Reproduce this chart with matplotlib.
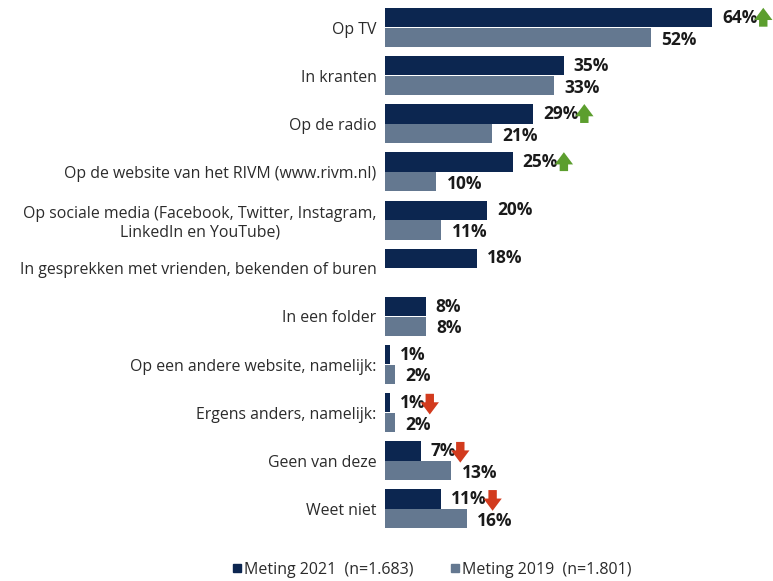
import numpy as np
import matplotlib.pyplot as plt
from matplotlib.lines import Line2D

plt.rcParams['font.family'] = ['Open Sans', 'DejaVu Sans']

# data
categories = [
    "Op TV",
    "In kranten",
    "Op de radio",
    "Op de website van het RIVM (www.rivm.nl)",
    "Op sociale media (Facebook, Twitter, Instagram,\nLinkedIn en YouTube)",
    "In gesprekken met vrienden, bekenden of buren",
    "In een folder",
    "Op een andere website, namelijk:",
    "Ergens anders, namelijk:",
    "Geen van deze",
    "Weet niet",
]
meting_2021 = [64, 35, 29, 25, 20, 18, 8, 1, 1, 7, 11]
meting_2019 = [52, 33, 21, 10, 11, None, 8, 2, 2, 13, 16]
# significant change vs 2019: +1 up, -1 down, 0 none
trend = [1, 0, 1, 1, 0, 0, 0, 0, -1, -1, -1]

c21 = '#0c2650'
c19 = '#647890'
green = '#5c9e2e'
red = '#d23b1e'

fig = plt.figure(figsize=(7.73, 5.81), dpi=100)
ax = fig.add_axes([0.498, 0.0826, 0.502, 0.9114])

y = np.arange(len(categories))
h = 0.40
ax.barh(y - 0.205, meting_2021, height=h, color=c21)
vals19 = [v if v is not None else 0 for v in meting_2019]
ax.barh(y + 0.205, vals19, height=h, color=c19)

for i in range(len(categories)):
    t = ax.annotate(f"{meting_2021[i]}%", xy=(meting_2021[i], y[i] - 0.205),
                    xytext=(7, 0), textcoords='offset points',
                    va='center', ha='left', fontsize=12.5, fontweight='bold',
                    color='#1a1a1a')
    if meting_2019[i] is not None:
        ax.annotate(f"{meting_2019[i]}%", xy=(meting_2019[i], y[i] + 0.205),
                    xytext=(7.5, -1.5), textcoords='offset points',
                    va='center', ha='left', fontsize=12.5, fontweight='bold',
                    color='#1a1a1a')
    if trend[i] != 0:
        col = green if trend[i] > 0 else red
        if trend[i] > 0:
            start, end = (1.17, 0.0), (1.17, 1.05)
        else:
            start, end = (1.17, 1.0), (1.17, -0.15)
        ax.annotate('', xy=end, xycoords=t, xytext=start, textcoords=t,
                    arrowprops=dict(arrowstyle='simple,head_width=1.2,head_length=0.8,tail_width=0.55',
                                    color=col, lw=0, mutation_scale=11,
                                    shrinkA=0, shrinkB=0))

ax.set_yticks(y)
ax.set_yticklabels(categories, fontsize=11.4, color='#2b2b2b', ha='right',
                   multialignment='center')
ax.tick_params(axis='y', length=0, pad=6)
ax.set_ylim(len(categories) - 0.5, -0.5)
ax.set_xlim(0, 75.9)
ax.set_xticks([])
for s in ax.spines.values():
    s.set_visible(False)

handles = [Line2D([], [], marker='s', linestyle='', color=c21, markersize=5.5),
           Line2D([], [], marker='s', linestyle='', color=c19, markersize=5.5)]
fig.legend(handles, ["Meting 2021  (n=1.683)", "Meting 2019  (n=1.801)"],
           loc='center', bbox_to_anchor=(0.558, 0.019), ncol=2, frameon=False,
           fontsize=11.5, handletextpad=0.05, columnspacing=2.2, handlelength=0.8,
           labelcolor='#2b2b2b')

fig.savefig('out.png', dpi=100)
